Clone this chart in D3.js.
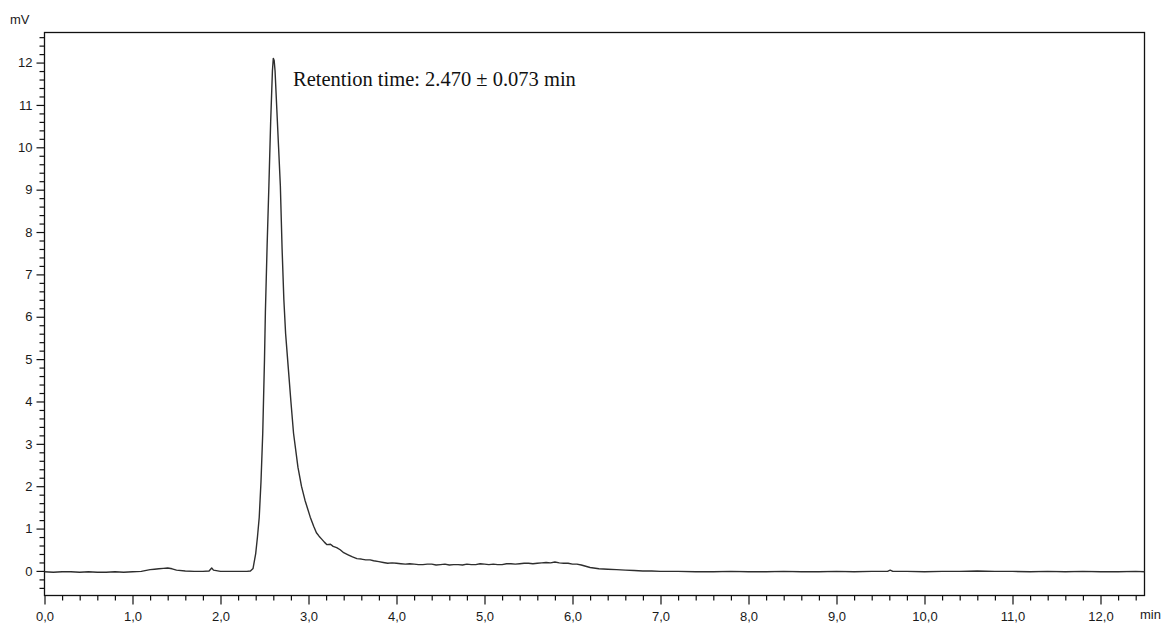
<!DOCTYPE html>
<html>
<head>
<meta charset="utf-8">
<script src="https://cdn.jsdelivr.net/npm/d3@7/dist/d3.min.js"></script>
<style>
  html, body { margin: 0; padding: 0; background: #fff; }
  svg { display: block; }
</style>
</head>
<body>
<svg id="chart" width="1165" height="624"></svg>
<script>
// ---- Data ----
const times = [
  0.0, 0.1, 0.2, 0.3, 0.4, 0.5, 0.6, 0.7, 0.8, 0.9, 1.0, 1.1,
  1.2, 1.25, 1.3, 1.35, 1.4, 1.45, 1.5, 1.6, 1.7, 1.8, 1.87, 1.9, 1.92, 2.0, 2.1, 2.2, 2.3, 2.34,
  2.37, 2.40, 2.42, 2.44, 2.46, 2.48, 2.50, 2.51, 2.53, 2.55, 2.57, 2.59, 2.60, 2.61, 2.62, 2.64,
  2.66, 2.68, 2.70, 2.72, 2.74, 2.77, 2.80, 2.83, 2.88, 2.92, 2.96, 3.02, 3.06, 3.09, 3.12, 3.15,
  3.18, 3.21, 3.25, 3.28, 3.32, 3.36, 3.40, 3.45, 3.50, 3.55, 3.60, 3.65, 3.70, 3.74, 3.80, 3.85,
  3.90, 3.95, 4.0, 4.05, 4.1, 4.15, 4.2, 4.25, 4.3, 4.35, 4.4, 4.45, 4.5, 4.55, 4.6, 4.65, 4.7, 4.75,
  4.8, 4.85, 4.9, 4.95, 5.0, 5.05, 5.1, 5.15, 5.2, 5.25, 5.3, 5.35, 5.4, 5.45, 5.5, 5.55,
  5.6, 5.65, 5.7, 5.75, 5.8, 5.85, 5.9, 5.95, 6.0, 6.05, 6.1, 6.2, 6.3, 6.4, 6.5, 6.6, 6.7, 6.8, 6.9, 7.0, 7.2, 7.4, 7.6,
  7.8, 8.0, 8.2, 8.4, 8.6, 8.8, 9.0, 9.2, 9.4, 9.58, 9.61, 9.64, 9.8, 10.0, 10.2, 10.4, 10.6,
  10.8, 11.0, 11.2, 11.4, 11.6, 11.8, 12.0, 12.2, 12.4, 12.5
];
const signal = [
  -0.02, -0.03, -0.02, -0.02, -0.03, -0.02, -0.03, -0.03, -0.02, -0.03, -0.02, -0.01,
  0.03, 0.04, 0.05, 0.06, 0.07, 0.05, 0.02, 0.00, -0.01, -0.01, 0.00, 0.07, 0.02, -0.01, -0.01, -0.01, -0.01, 0.00,
  0.06, 0.41, 0.80, 1.26, 2.10, 3.25, 5.00, 6.10, 7.70, 9.10, 10.60, 11.80, 12.10, 12.05, 11.80, 10.90,
  10.00, 9.10, 7.60, 6.40, 5.60, 4.80, 4.00, 3.25, 2.45, 2.00, 1.67, 1.27, 1.05, 0.90, 0.82, 0.75,
  0.68, 0.62, 0.63, 0.58, 0.55, 0.50, 0.43, 0.38, 0.33, 0.29, 0.28, 0.26, 0.26, 0.24, 0.22, 0.20,
  0.18, 0.19, 0.18, 0.17, 0.16, 0.17, 0.16, 0.15, 0.15, 0.16, 0.16, 0.14, 0.15, 0.16, 0.14, 0.15, 0.15, 0.14,
  0.16, 0.15, 0.15, 0.17, 0.16, 0.15, 0.16, 0.15, 0.15, 0.17, 0.17, 0.16, 0.17, 0.18, 0.18, 0.17,
  0.18, 0.19, 0.20, 0.19, 0.21, 0.19, 0.18, 0.18, 0.16, 0.16, 0.14, 0.08, 0.05, 0.04, 0.03, 0.02, 0.01, 0.00, 0.00, -0.01, -0.01, -0.02, -0.02,
  -0.01, -0.02, -0.02, -0.01, -0.02, -0.02, -0.01, -0.02, -0.01, -0.01, 0.02, -0.01, -0.01, -0.02, -0.01, -0.01, 0.00,
  -0.01, -0.01, -0.02, -0.01, -0.02, -0.01, -0.02, -0.02, -0.01, -0.02
];
const xMajorTicks = [0, 1, 2, 3, 4, 5, 6, 7, 8, 9, 10, 11, 12];
const xTickLabels = ["0,0", "1,0", "2,0", "3,0", "4,0", "5,0", "6,0", "7,0", "8,0", "9,0", "10,0", "11,0", "12,0"];
const yMajorTicks = [0, 1, 2, 3, 4, 5, 6, 7, 8, 9, 10, 11, 12];
const yTickLabels = ["0", "1", "2", "3", "4", "5", "6", "7", "8", "9", "10", "11", "12"];
const xUnit = "min";
const yUnit = "mV";
const annotation = "Retention time: 2.470 \u00b1 0.073 min";

// ---- Layout ----
const svg = d3.select("#chart");
const pLeft = 44.5, pRight = 1144.5, pTop = 32.5, pBottom = 595.5;

const x = d3.scaleLinear().domain([0, 12.5]).range([pLeft, pRight]);
const y = d3.scaleLinear().domain([-0.58, 12.71]).range([pBottom, pTop]);

const xMinor = d3.range(0, 12.5001, 0.2).map(v => +v.toFixed(2)).filter(v => !xMajorTicks.includes(v));
const yMinor = d3.range(-0.4, 12.7, 0.2).map(v => +v.toFixed(2)).filter(v => !yMajorTicks.includes(v));

const font = "'Liberation Sans', Arial, sans-serif";

const gxMinor = svg.append("g").attr("transform", `translate(0,${pBottom})`)
  .call(d3.axisBottom(x).tickValues(xMinor).tickSize(5).tickFormat(""));
const gx = svg.append("g").attr("transform", `translate(0,${pBottom})`)
  .call(d3.axisBottom(x).tickValues(xMajorTicks).tickSize(9).tickPadding(4)
    .tickFormat((d, i) => xTickLabels[i]));
const gyMinor = svg.append("g").attr("transform", `translate(${pLeft},0)`)
  .call(d3.axisLeft(y).tickValues(yMinor).tickSize(5).tickFormat(""));
const gy = svg.append("g").attr("transform", `translate(${pLeft},0)`)
  .call(d3.axisLeft(y).tickValues(yMajorTicks).tickSize(8).tickPadding(4)
    .tickFormat((d, i) => yTickLabels[i]));

[gxMinor, gx, gyMinor, gy].forEach(g => {
  g.select(".domain").remove();
  g.selectAll(".tick line").attr("stroke", "#111").attr("stroke-width", 1.2);
  g.selectAll(".tick text").attr("fill", "#1a1a1a")
    .style("font-family", font).style("font-size", "13px");
});
gx.selectAll(".tick text").attr("dy", "0.95em");

svg.append("rect")
  .attr("x", pLeft).attr("y", pTop)
  .attr("width", pRight - pLeft).attr("height", pBottom - pTop)
  .attr("fill", "none").attr("stroke", "#111").attr("stroke-width", 1.3);

const pts = times.map((t, i) => [t, signal[i]]);
svg.append("path")
  .datum(pts)
  .attr("fill", "none")
  .attr("stroke", "#2e2e2e")
  .attr("stroke-width", 1.4)
  .attr("stroke-linejoin", "round")
  .attr("d", d3.line().x(d => x(d[0])).y(d => y(d[1])));

svg.append("text").attr("x", 10).attr("y", 24)
  .style("font-family", font).style("font-size", "13px").attr("fill", "#1a1a1a")
  .text(yUnit);
svg.append("text").attr("x", 1140).attr("y", 619)
  .style("font-family", font).style("font-size", "13px").attr("fill", "#1a1a1a")
  .text(xUnit);

svg.append("text").attr("x", 293).attr("y", 86)
  .style("font-family", "'Liberation Serif', 'Times New Roman', serif")
  .style("font-size", "20.5px").attr("fill", "#111")
  .text(annotation);
</script>
</body>
</html>
